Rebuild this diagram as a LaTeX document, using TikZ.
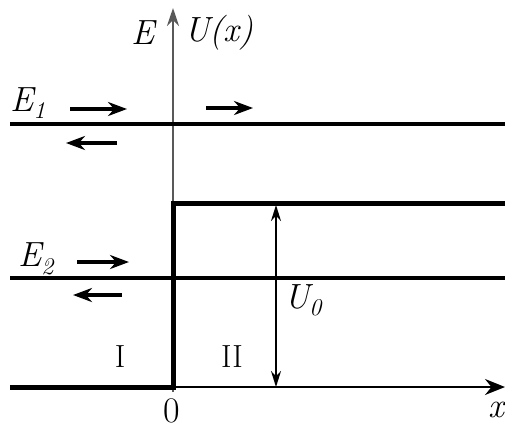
\documentclass[tikz,border=0pt]{standalone}
\usepackage{fontspec}
\usetikzlibrary{arrows.meta}
\tikzset{
  thickline/.style={line width=5pt},
  levelline/.style={line width=3.2pt},
  thinline/.style={line width=1.8pt},
  flow/.style={line width=3.6pt,-{Stealth[length=19pt,width=14pt]}},
  lbl/.style={font=\fontsize{35}{37}\selectfont\itshape}
}
\begin{document}
\begin{tikzpicture}[x=1pt,y=-1pt]
\useasboundingbox (0,0) rectangle (505,432);
% axes
\coordinate (O) at (173,387);
\coordinate (ytop) at (173,8);
\coordinate (xl) at (10,387);
\coordinate (xr) at (505,387);
\draw[line width=2.4pt,gray!70!black,-{Stealth[length=18pt,width=12pt]}] (173,392) -- (ytop);
\draw[thinline,-{Stealth[length=20pt,width=16pt]}] (O) -- (xr);
% potential step
\coordinate (stepb) at (173,203);
\coordinate (stepr) at (505,203);
\draw[thickline] (xl) -- (O) -- (stepb) -- (stepr);
% energy levels
\coordinate (e1l) at (10,124);
\coordinate (e1r) at (505,124);
\coordinate (e2l) at (10,278);
\coordinate (e2r) at (505,278);
\draw[levelline] (e1l) -- (e1r);
\draw[levelline] (e2l) -- (e2r);
% barrier height
\coordinate (u0t) at (276,205);
\coordinate (u0b) at (276,387);
\draw[thinline,{Stealth[length=16pt,width=10pt]}-{Stealth[length=16pt,width=10pt]}] (u0b) -- (u0t);
% waves
\draw[flow] (70,109) -- (127,109);
\draw[flow] (206,108) -- (253,108);
\draw[flow] (117,143) -- (66,143);
\draw[flow] (77,262) -- (129,262);
\draw[flow] (122,295) -- (73,295);
% labels
\node[lbl] (eaxis) at (143,33) {E};
\node[lbl] (uaxis) at (219,33) {U(x)};
\node[lbl] (e1) at (28,103) {E\textsubscript{\fontsize{24}{24}\selectfont 1}};
\node[lbl] (e2) at (36,259) {E\textsubscript{\fontsize{24}{24}\selectfont 2}};
\node[lbl] (u0) at (303,300) {U\textsubscript{\fontsize{24}{24}\selectfont 0}};
\node[font=\fontsize{32}{34}\selectfont] (r1) at (120,357) {I};
\node[font=\fontsize{32}{34}\selectfont] (r2) at (232,357) {II};
\node[font=\fontsize{36}{38}\selectfont] (zero) at (172,411) {0};
\node[lbl] (xlab) at (496,410) {x};
\end{tikzpicture}
\end{document}
